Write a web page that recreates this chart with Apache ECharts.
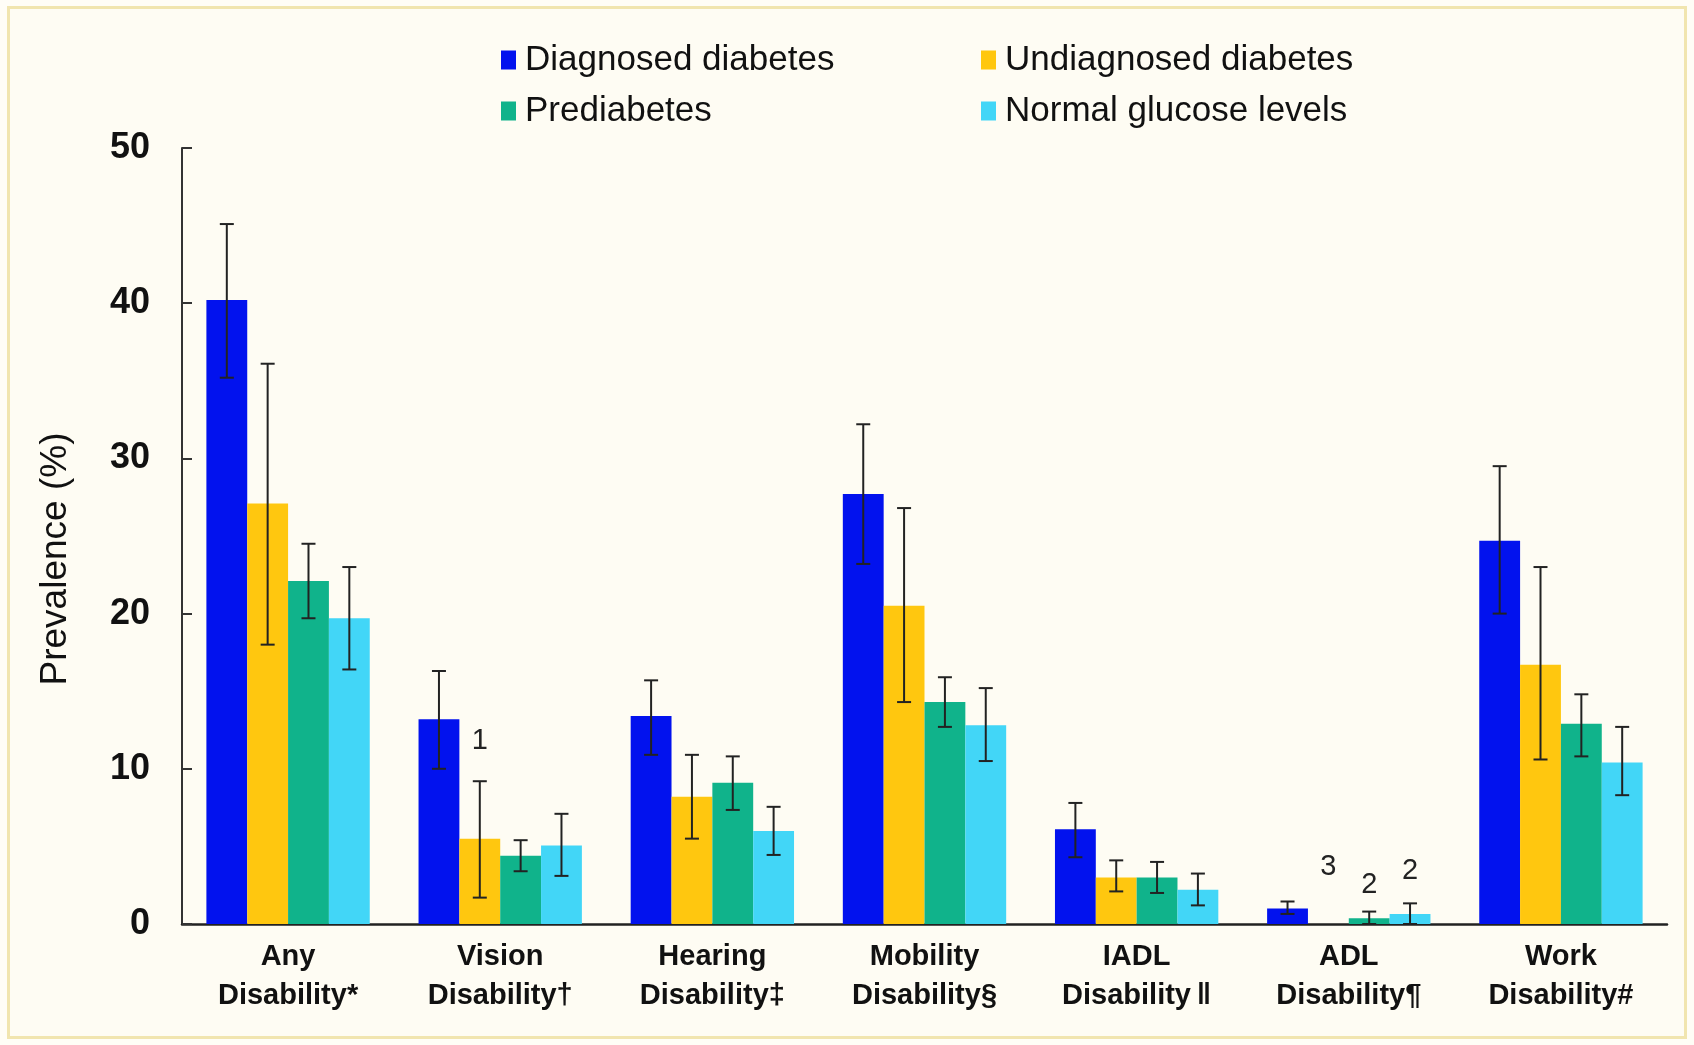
<!DOCTYPE html>
<html>
<head>
<meta charset="utf-8">
<script src="https://cdn.jsdelivr.net/npm/echarts@6/dist/echarts.min.js"></script>
<style>
  html, body { margin: 0; padding: 0; background: #FFFDF6; }
  #frame {
    position: absolute; left: 7px; top: 6px; width: 1674px; height: 1027px;
    border: 3px solid #F1E5AF; background: #FEFCF3; box-sizing: content-box;
  }
  #chart { position: absolute; left: 0; top: 0; width: 1694px; height: 1045px; }
</style>
</head>
<body>
<div id="frame"></div>
<div id="chart"></div>
<script>
// Disability categories (x axis)
const categories = [
  'Any\nDisability*', 'Vision\nDisability\u2020', 'Hearing\nDisability\u2021',
  'Mobility\nDisability\u00a7', 'IADL\nDisability\u2009\u2016', 'ADL\nDisability\u00b6',
  'Work\nDisability#'
];
const seriesNames = ['Diagnosed diabetes', 'Undiagnosed diabetes', 'Prediabetes', 'Normal glucose levels'];

// Prevalence (%) with 95% confidence limits
const diagnosed     = [40.2, 13.2, 13.4, 27.7, 6.1, 1.0, 24.7];
const diagnosedLow  = [35.2, 10.0, 10.9, 23.2, 4.3, 0.65, 20.0];
const diagnosedHigh = [45.1, 16.3, 15.7, 32.2, 7.8, 1.45, 29.5];

const undiagnosed     = [27.1, 5.5, 8.2, 20.5, 3.0, null, 16.7];
const undiagnosedLow  = [18.0, 1.7, 5.5, 14.3, 2.1, null, 10.6];
const undiagnosedHigh = [36.1, 9.2, 10.9, 26.8, 4.1, null, 23.0];

const prediabetes     = [22.1, 4.4, 9.1, 14.3, 3.0, 0.37, 12.9];
const prediabetesLow  = [19.7, 3.4, 7.35, 12.7, 2.0, 0.0, 10.8];
const prediabetesHigh = [24.5, 5.4, 10.8, 15.9, 4.0, 0.8, 14.8];

const normal     = [19.7, 5.05, 6.0, 12.8, 2.2, 0.64, 10.4];
const normalLow  = [16.4, 3.1, 4.45, 10.5, 1.2, 0.0, 8.3];
const normalHigh = [23.0, 7.1, 7.55, 15.2, 3.25, 1.33, 12.7];

// Footnote markers: [category index, series index, marker, anchor level (%)]
const footnoteMarks = [
  [1, 1, '1', 11.8],
  [5, 1, '3', 3.7],
  [5, 2, '2', 2.5],
  [5, 3, '2', 3.4]
];

const yTicks = [0, 10, 20, 30, 40, 50];

const colors = ['#0212EE', '#FFC70F', '#10B38B', '#42D6F7'];
const FONT = '"Liberation Sans", Arial, sans-serif';
const CAT_GAP = 0.23;

const values = [diagnosed, undiagnosed, prediabetes, normal];
const lows = [diagnosedLow, undiagnosedLow, prediabetesLow, normalLow];
const highs = [diagnosedHigh, undiagnosedHigh, prediabetesHigh, normalHigh];

const errData = [];
lows.forEach((lo, s) => {
  lo.forEach((v, c) => {
    if (v !== null && highs[s][c] !== null) errData.push([c, s, v, highs[s][c]]);
  });
});

function barCenterX(api, cat, s) {
  const band = api.size([1, 0])[0];
  const bw = band * (1 - CAT_GAP) / 4;
  return api.coord([cat, 0])[0] + (s - 1.5) * bw;
}

const chart = echarts.init(document.getElementById('chart'), null, { renderer: 'canvas' });

const barSeries = seriesNames.map((name, s) => ({
  name: name,
  type: 'bar',
  data: values[s],
  barGap: '0%',
  barCategoryGap: (CAT_GAP * 100) + '%',
  itemStyle: { color: colors[s] },
  emphasis: { disabled: true },
  z: 2
}));

const legendText = { fontFamily: FONT, fontSize: 35, color: '#111', lineHeight: 36, padding: [0, 0, 0, 4] };

chart.setOption({
  backgroundColor: 'transparent',
  animation: false,
  color: colors,
  grid: { left: 182, right: 27, top: 148, bottom: 121, containLabel: false },
  legend: [
    {
      data: [seriesNames[0], seriesNames[2]], orient: 'vertical',
      left: 496, top: 37, itemWidth: 15, itemHeight: 19, itemGap: 15,
      icon: 'rect', textStyle: legendText, selectedMode: false
    },
    {
      data: [seriesNames[1], seriesNames[3]], orient: 'vertical',
      left: 976, top: 37, itemWidth: 15, itemHeight: 19, itemGap: 15,
      icon: 'rect', textStyle: legendText, selectedMode: false
    }
  ],
  xAxis: {
    type: 'category',
    data: categories,
    axisLine: { lineStyle: { color: '#222', width: 2.5 } },
    axisTick: { show: false },
    axisLabel: {
      fontFamily: FONT, fontSize: 29, fontWeight: 'bold', color: '#111',
      lineHeight: 39, margin: 13, interval: 0
    }
  },
  yAxis: {
    type: 'value',
    min: yTicks[0], max: yTicks[yTicks.length - 1], interval: 10,
    name: 'Prevalence (%)',
    nameLocation: 'middle',
    nameRotate: 90,
    nameGap: 108,
    nameTextStyle: { fontFamily: FONT, fontSize: 37, color: '#111', padding: [0, 46, 0, 0] },
    splitLine: { show: false },
    axisLine: { show: true, lineStyle: { color: '#333', width: 2 } },
    axisTick: { show: true, inside: true, length: 10, lineStyle: { color: '#333', width: 2 } },
    axisLabel: {
      fontFamily: FONT, fontSize: 36, fontWeight: 'bold', color: '#111', margin: 32
    }
  },
  series: barSeries.concat([
    {
      type: 'custom',
      name: 'confidence interval',
      data: errData,
      encode: { x: 0, y: [2, 3] },
      z: 5,
      silent: true,
      renderItem: function (params, api) {
        const cat = api.value(0), s = api.value(1);
        const x = barCenterX(api, cat, s);
        const yLo = api.coord([cat, api.value(2)])[1];
        const yHi = api.coord([cat, api.value(3)])[1];
        const cap = 7;
        const st = { stroke: '#222', lineWidth: 2 };
        return {
          type: 'group',
          children: [
            { type: 'line', shape: { x1: x, y1: yLo, x2: x, y2: yHi }, style: st },
            { type: 'line', shape: { x1: x - cap, y1: yHi, x2: x + cap, y2: yHi }, style: st },
            { type: 'line', shape: { x1: x - cap, y1: yLo, x2: x + cap, y2: yLo }, style: st }
          ]
        };
      }
    },
    {
      type: 'custom',
      name: 'footnotes',
      data: footnoteMarks,
      encode: { x: 0, y: 3 },
      z: 6,
      silent: true,
      renderItem: function (params, api) {
        const item = footnoteMarks[params.dataIndex];
        const x = barCenterX(api, item[0], item[1]);
        const y = api.coord([item[0], item[3]])[1];
        return {
          type: 'text',
          style: {
            text: item[2], x: x, y: y, align: 'center', verticalAlign: 'middle',
            fontFamily: FONT, fontSize: 29, fill: '#222'
          }
        };
      }
    }
  ])
});
</script>
</body>
</html>
